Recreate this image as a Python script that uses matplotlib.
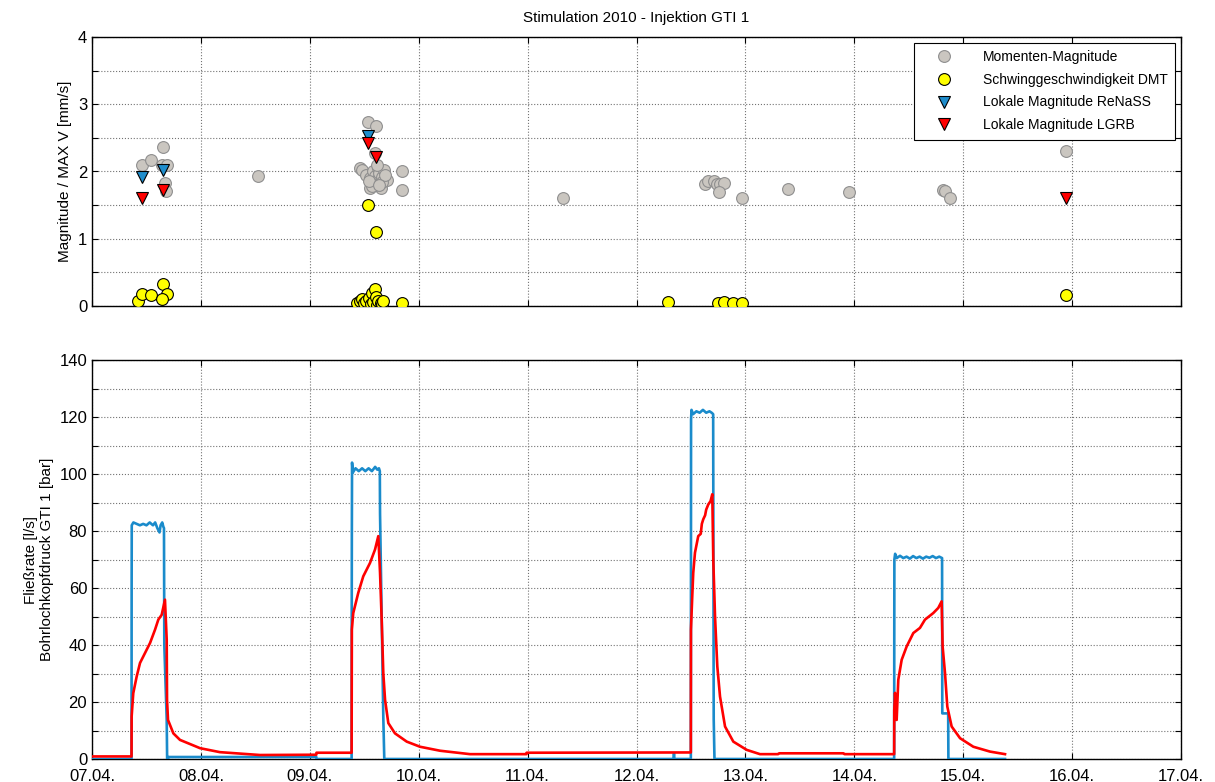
import matplotlib
matplotlib.use("Agg")
import matplotlib.pyplot as plt

plt.rcParams.update({
    "font.family": ["Liberation Sans", "DejaVu Sans"],
    "xtick.direction": "in",
    "ytick.direction": "in",
    "xtick.top": True,
    "ytick.right": True,
})

# x values: days after 07.04.2010 00:00
DAY_LABELS = ["07.04.", "08.04.", "09.04.", "10.04.", "11.04.", "12.04.",
              "13.04.", "14.04.", "15.04.", "16.04.", "17.04."]

# --- seismic events (top panel) ---
mw_x = [0.456, 0.539, 0.64, 0.655, 0.686, 0.673, 0.68, 1.524,
        2.537, 2.608, 2.60, 2.461, 2.48, 2.847, 2.847, 2.553, 2.65, 2.706,
        2.52, 2.55, 2.57, 2.58, 2.60, 2.62, 2.63, 2.64, 2.66, 2.68, 2.60,
        2.57, 2.62, 2.66, 2.69, 2.54, 2.64,
        4.325, 5.629, 5.66, 5.714, 5.737, 5.767, 5.806, 5.76, 5.969,
        6.394, 6.949, 7.817, 7.833, 7.879, 8.944]
mw_y = [2.10, 2.17, 2.10, 2.37, 2.09, 1.83, 1.71, 1.94,
        2.74, 2.68, 2.27, 2.05, 2.02, 2.00, 1.73, 1.76, 1.76, 1.87,
        1.95, 1.90, 1.85, 2.00, 1.93, 1.88, 2.05, 1.98, 1.92, 2.02, 1.80,
        1.78, 2.10, 1.85, 1.95, 1.86, 1.80,
        1.60, 1.81, 1.86, 1.86, 1.82, 1.82, 1.83, 1.70, 1.60,
        1.74, 1.70, 1.73, 1.71, 1.60, 2.30]

dmt_x = [0.42, 0.456, 0.539, 0.655, 0.686, 0.64,
         2.537, 2.608, 2.43, 2.46, 2.477, 2.50, 2.52, 2.54, 2.56, 2.568,
         2.58, 2.60, 2.61, 2.62, 2.63, 2.65, 2.66, 2.67, 2.847,
         5.289, 5.75, 5.803, 5.886, 5.969, 8.944]
dmt_y = [0.07, 0.18, 0.16, 0.32, 0.18, 0.10,
         1.50, 1.10, 0.05, 0.08, 0.10, 0.04, 0.07, 0.12, 0.03, 0.19,
         0.06, 0.26, 0.14, 0.02, 0.08, 0.05, 0.03, 0.07, 0.04,
         0.06, 0.04, 0.06, 0.04, 0.04, 0.17]

renass_x = [0.456, 0.649, 2.537]
renass_y = [1.92, 2.02, 2.53]

lgrb_x = [0.456, 0.649, 2.537, 2.608, 8.944]
lgrb_y = [1.61, 1.73, 2.42, 2.22, 1.61]

# --- flow rate [l/s] (bottom panel, blue) ---
flow_x = [0.0, 0.363, 0.364, 0.365, 0.38, 0.41, 0.44, 0.47, 0.50, 0.53, 0.56,
          0.58, 0.60, 0.62, 0.63, 0.645, 0.655, 0.661, 0.664, 0.686, 0.690,
          0.70, 0.701, 2.06, 2.061, 2.384,
          2.385, 2.386, 2.388, 2.395, 2.42, 2.45, 2.48, 2.51, 2.54, 2.57,
          2.60, 2.62, 2.635, 2.643, 2.645, 2.675, 2.684,
          5.342, 5.344, 5.346, 5.499,
          5.500, 5.501, 5.505, 5.52, 5.55, 5.58, 5.61, 5.64, 5.67, 5.69,
          5.704, 5.709, 5.716, 7.366,
          7.367, 7.368, 7.375, 7.39, 7.42, 7.45, 7.48, 7.51, 7.54, 7.57,
          7.60, 7.63, 7.66, 7.69, 7.72, 7.75, 7.78, 7.806, 7.808, 7.862,
          7.864, 8.384]
flow_y = [0.0, 0.0, 60.0, 82.0, 83.0, 82.5, 82.0, 82.5, 82.0, 83.0, 82.0,
          83.0, 81.0, 79.5, 82.0, 83.0, 81.5, 81.0, 40.0, 13.7, 0.0,
          0.0, 0.7, 0.7, 0.0, 0.0,
          50.0, 77.0, 104.0, 100.5, 102.0, 101.0, 102.0, 101.0, 102.0, 101.0,
          102.5, 101.5, 102.0, 101.0, 86.0, 14.5, 0.0,
          0.0, 2.0, 0.0, 0.0,
          60.0, 119.0, 122.5, 121.0, 122.0, 121.5, 122.5, 121.5, 122.0, 121.5,
          121.0, 14.0, 0.0, 0.0,
          40.0, 70.0, 72.0, 70.5, 71.3, 70.5, 71.0, 70.3, 71.2, 70.5,
          71.0, 70.3, 71.0, 70.6, 71.2, 70.5, 71.0, 70.5, 16.0, 16.0,
          0.0, 0.0]

# --- wellhead pressure [bar] (bottom panel, red) ---
press_x = [0.0, 0.363, 0.364, 0.379, 0.410, 0.441, 0.487, 0.533, 0.579, 0.609,
           0.640, 0.670, 0.686, 0.689, 0.698, 0.747, 0.808, 0.992, 1.175,
           1.543, 2.06, 2.061, 2.384,
           2.386, 2.399, 2.445, 2.491, 2.553, 2.599, 2.629, 2.645, 2.660,
           2.675, 2.691, 2.721, 2.782, 2.890, 3.012, 3.196, 3.471, 3.99,
           3.991, 5.499,
           5.500, 5.512, 5.521, 5.537, 5.567, 5.59, 5.60, 5.613, 5.63, 5.64,
           5.659, 5.68, 5.696, 5.705, 5.721, 5.742, 5.767, 5.813, 5.889,
           6.012, 6.134, 6.30, 6.31, 6.90, 6.91, 7.366,
           7.367, 7.374, 7.389, 7.404, 7.435, 7.481, 7.542, 7.603, 7.649,
           7.725, 7.771, 7.802, 7.811, 7.833, 7.854, 7.894, 7.971, 8.093,
           8.246, 8.384]
press_y = [0.9, 0.9, 14.9, 23.1, 28.9, 33.7, 37.2, 40.7, 45.4, 48.9,
           50.6, 55.9, 41.9, 20.8, 13.7, 9.0, 6.7, 3.8, 2.4,
           1.4, 1.5, 2.2, 2.2,
           45.4, 51.2, 58.3, 64.1, 68.8, 73.5, 78.2, 65.3, 48.9,
           30.1, 20.8, 12.6, 9.0, 6.1, 4.3, 2.9, 1.7, 1.7,
           2.2, 2.3,
           45.4, 57.1, 65.3, 72.4, 78.2, 79.0, 82.5, 84.1, 85.5, 87.5,
           89.3, 90.5, 92.9, 70.0, 50.1, 32.5, 21.9, 11.4, 6.1,
           3.2, 1.7, 1.7, 2.0, 2.0, 1.7, 1.7,
           17.2, 23.2, 13.7, 27.8, 34.8, 39.5, 44.2, 46.0, 48.9,
           51.2, 53.0, 55.3, 39.5, 30.1, 18.4, 11.4, 7.3, 4.3,
           2.6, 1.7]

W, H = 1215, 782
fig = plt.figure(figsize=(W / 100, H / 100), dpi=100)
ax1 = fig.add_axes([92 / W, (H - 306) / H, 1089 / W, 269 / H])
ax2 = fig.add_axes([92 / W, (H - 759) / H, 1089 / W, 399 / H])

grid_kw = dict(color="0.45", linestyle=":", linewidth=0.8)

# top panel
ms = 8.5
ax1.plot(mw_x, mw_y, "o", ls="none", ms=ms, mfc="#cac6c0", mec="#8f8f8f",
         mew=0.8, label="Momenten-Magnitude", zorder=3)
ax1.plot(dmt_x, dmt_y, "o", ls="none", ms=ms, mfc="#ffff00", mec="black",
         mew=0.8, label="Schwinggeschwindigkeit DMT", zorder=4)
ax1.plot(renass_x, renass_y, "v", ls="none", ms=ms + 0.5, mfc="#1f8dcc", mec="black",
         mew=0.8, label="Lokale Magnitude ReNaSS", zorder=5)
ax1.plot(lgrb_x, lgrb_y, "v", ls="none", ms=ms + 0.5, mfc="#ff0000", mec="black",
         mew=0.8, label="Lokale Magnitude LGRB", zorder=5)

ax1.set_xlim(0, 10)
ax1.set_ylim(0, 4)
ax1.set_xticks(range(11))
ax1.set_xticklabels([])
ax1.set_yticks([0, 0.5, 1, 1.5, 2, 2.5, 3, 3.5, 4])
ax1.set_yticklabels(["0", "", "1", "", "2", "", "3", "", "4"])
ax1.grid(True, **grid_kw)
ax1.set_axisbelow(True)
ax1.set_ylabel("Magnitude / MAX V [mm/s]", fontsize=11)
ax1.set_title("Stimulation 2010 - Injektion GTI 1", fontsize=11, pad=11)
leg = ax1.legend(loc="upper right", fontsize=10, frameon=True, fancybox=False,
                 edgecolor="black", framealpha=1, borderaxespad=0.4,
                 handletextpad=1.2, labelspacing=0.62, borderpad=0.55,
                 handlelength=3.2)
leg.get_frame().set_linewidth(0.8)

# bottom panel
ax2.plot(flow_x, flow_y, color="#1a8bcb", linewidth=1.9, zorder=3)
ax2.plot(press_x, press_y, color="#ff0000", linewidth=1.9, zorder=4)
ax2.set_xlim(0, 10)
ax2.set_ylim(0, 140)
ax2.set_xticks(range(11))
ax2.set_xticklabels(DAY_LABELS)
ax2.set_yticks(range(0, 141, 10))
ax2.set_yticklabels([str(v) if v % 20 == 0 else "" for v in range(0, 141, 10)])
ax2.grid(True, **grid_kw)
ax2.set_axisbelow(True)
ax2.set_ylabel("Fließrate [l/s]\nBohrlochkopfdruck GTI 1 [bar]", fontsize=11)

for ax in (ax1, ax2):
    ax.tick_params(labelsize=12, length=4, width=0.8)
    for s in ax.spines.values():
        s.set_linewidth(1.0)
ax2.tick_params(axis="x", pad=7)

fig.savefig("out.png", dpi=100)
